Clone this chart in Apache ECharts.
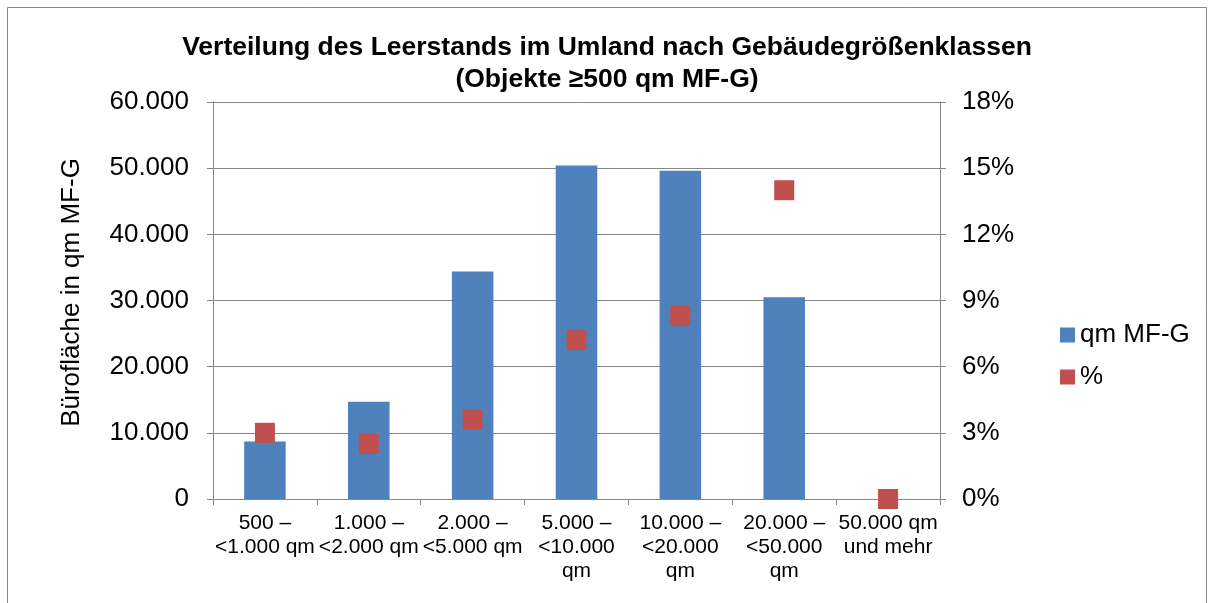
<!DOCTYPE html>
<html>
<head>
<meta charset="utf-8">
<script src="https://cdn.jsdelivr.net/npm/echarts@6/dist/echarts.min.js"></script>
<style>
  html, body { margin: 0; padding: 0; background: #fff; }
  #chart { width: 1214px; height: 603px; }
</style>
</head>
<body>
<div id="chart"></div>
<script>
// Größenklassen und Werte
const categories = [
  '500 –\n<1.000 qm',
  '1.000 –\n<2.000 qm',
  '2.000 –\n<5.000 qm',
  '5.000 –\n<10.000\nqm',
  '10.000 –\n<20.000\nqm',
  '20.000 –\n<50.000\nqm',
  '50.000 qm\nund mehr'
];
const flaeche = [8700, 14700, 34400, 50400, 49600, 30500, 0];
const anteil = [3.0, 2.5, 3.6, 7.2, 8.3, 14.0, 0];

const font = "'Liberation Sans', Arial, sans-serif";
const axisGray = '#868686';

// 60000 -> "60.000"
const dotThousands = (v) => String(v).replace(/\B(?=(\d{3})+(?!\d))/g, '.');

const chart = echarts.init(document.getElementById('chart'));

chart.setOption({
  animation: false,
  textStyle: { fontFamily: font, color: '#000' },
  graphic: [
    {
      type: 'rect',
      shape: { x: 7.5, y: 7.5, width: 1199, height: 640 },
      style: { fill: 'none', stroke: axisGray, lineWidth: 1 }
    }
  ],
  title: {
    text: 'Verteilung des Leerstands im Umland nach Gebäudegrößenklassen\n(Objekte ≥500 qm MF-G)',
    left: 'center',
    top: 27,
    textStyle: {
      fontFamily: font,
      fontSize: 26.5,
      fontWeight: 'bold',
      lineHeight: 32,
      color: '#000'
    }
  },
  legend: {
    orient: 'vertical',
    left: 1055,
    top: 317,
    itemGap: 16,
    itemWidth: 15,
    itemHeight: 15,
    textStyle: { fontFamily: font, fontSize: 26, color: '#000' },
    data: [
      { name: 'qm MF-G', icon: 'rect' },
      { name: '%', icon: 'rect' }
    ]
  },
  grid: {
    left: 213,
    right: 274,
    top: 102,
    bottom: 104,
    containLabel: false
  },
  xAxis: {
    type: 'category',
    data: categories,
    boundaryGap: true,
    axisLine: { lineStyle: { color: axisGray, width: 1 } },
    axisTick: { show: true, length: 6, lineStyle: { color: axisGray } },
    axisLabel: {
      interval: 0,
      margin: 12,
      fontFamily: font,
      fontSize: 21,
      lineHeight: 24,
      color: '#000'
    }
  },
  yAxis: [
    {
      type: 'value',
      min: 0,
      max: 60000,
      interval: 10000,
      name: 'Bürofläche in qm MF-G',
      nameLocation: 'middle',
      nameGap: 128,
      nameTextStyle: { fontFamily: font, fontSize: 26, color: '#000', padding: [0, 0, 0, 16] },
      axisLine: { show: true, lineStyle: { color: axisGray } },
      axisTick: { show: true, length: 6, lineStyle: { color: axisGray } },
      axisLabel: {
        margin: 24,
        fontFamily: font,
        fontSize: 26,
        color: '#000',
        formatter: dotThousands
      },
      splitLine: { show: true, lineStyle: { color: axisGray, width: 1 } }
    },
    {
      type: 'value',
      min: 0,
      max: 18,
      interval: 3,
      position: 'right',
      axisLine: { show: true, lineStyle: { color: axisGray } },
      axisTick: { show: true, length: 6, lineStyle: { color: axisGray } },
      axisLabel: {
        margin: 22,
        fontFamily: font,
        fontSize: 26,
        color: '#000',
        formatter: '{value}%'
      },
      splitLine: { show: false }
    }
  ],
  series: [
    {
      name: 'qm MF-G',
      type: 'bar',
      data: flaeche,
      barWidth: '40%',
      itemStyle: { color: '#4F81BD' }
    },
    {
      name: '%',
      type: 'scatter',
      yAxisIndex: 1,
      data: anteil,
      symbol: 'rect',
      symbolSize: 20,
      itemStyle: { color: '#C0504D', opacity: 1 },
      z: 3
    }
  ]
});
</script>
</body>
</html>
